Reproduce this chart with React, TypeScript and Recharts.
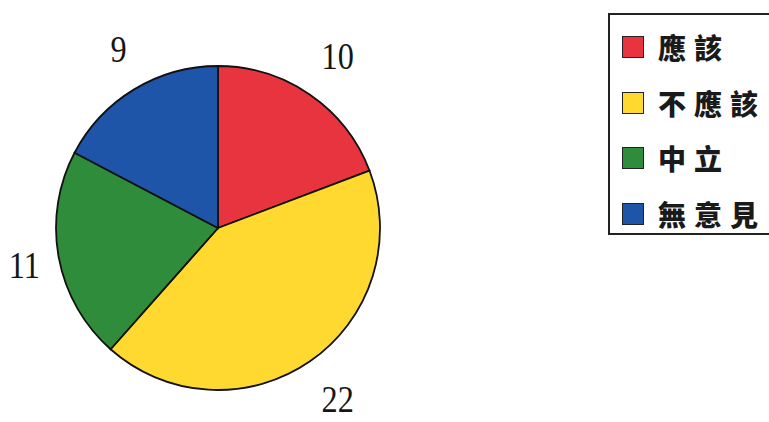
import React from 'react';
import { PieChart, Pie, Cell, Legend } from 'recharts';

const categories = ['應該', '不應該', '中立', '無意見'];
const counts = [10, 22, 11, 9];
const colors = ['#E8343F', '#FFD930', '#2F8C3B', '#1E55A9'];

const data = categories.map((name, i) => ({ name, value: counts[i] }));

const RAD = Math.PI / 180;

const renderLabel = (props: any) => {
  const { cx, cy, midAngle, outerRadius, value } = props;
  // labels sit a bit further out vertically than horizontally in the original
  const x = cx + 5 + (outerRadius + 40) * Math.cos(-midAngle * RAD);
  const y = cy + (outerRadius + 46) * Math.sin(-midAngle * RAD);
  return (
    <text
      x={x}
      y={y}
      textAnchor="middle"
      dominantBaseline="central"
      fontFamily="'Liberation Serif', 'DejaVu Serif', serif"
      fontSize={38}
      fill="#151515"
      transform={`translate(${x} ${y}) scale(0.85 1) translate(${-x} ${-y})`}
    >
      {value}
    </text>
  );
};

const LegendBox = () => (
  <div
    style={{
      position: 'absolute',
      left: 608,
      top: 13,
      width: 200,
      height: 222,
      border: '2px solid #222',
      boxSizing: 'border-box',
      background: '#fff',
    }}
  >
    {categories.map((name, i) => (
      <div
        key={name}
        style={{
          position: 'absolute',
          left: 12,
          top: 18 + i * 55.5,
          height: 28,
          display: 'flex',
          alignItems: 'center',
          whiteSpace: 'nowrap',
        }}
      >
        <div
          style={{
            width: 20,
            height: 20,
            background: colors[i],
            border: '1.5px solid #222',
            marginRight: 14,
          }}
        />
        <span
          style={{
            fontFamily: "'Noto Sans CJK TC', 'Noto Sans CJK SC', sans-serif",
            fontWeight: 900,
            fontSize: 28,
            letterSpacing: 8,
            color: '#1a1a1a',
            lineHeight: '28px',
          }}
        >
          {name}
        </span>
      </div>
    ))}
  </div>
);

export default function App() {
  return (
    <div style={{ position: 'absolute', left: 0, top: 0, width: 769, height: 422, background: '#fff', overflow: 'hidden' }}>
      <PieChart width={769} height={422} margin={{ top: 0, right: 0, bottom: 0, left: 0 }}>
        <Pie
          data={data}
          dataKey="value"
          nameKey="name"
          cx={218}
          cy={228}
          outerRadius={162}
          startAngle={90}
          endAngle={-270}
          stroke="#111"
          strokeWidth={1.8}
          label={renderLabel}
          labelLine={false}
          isAnimationActive={false}
        >
          {data.map((d, i) => (
            <Cell key={d.name} fill={colors[i]} />
          ))}
        </Pie>
        <Legend content={() => null} />
      </PieChart>
      <LegendBox />
    </div>
  );
}
